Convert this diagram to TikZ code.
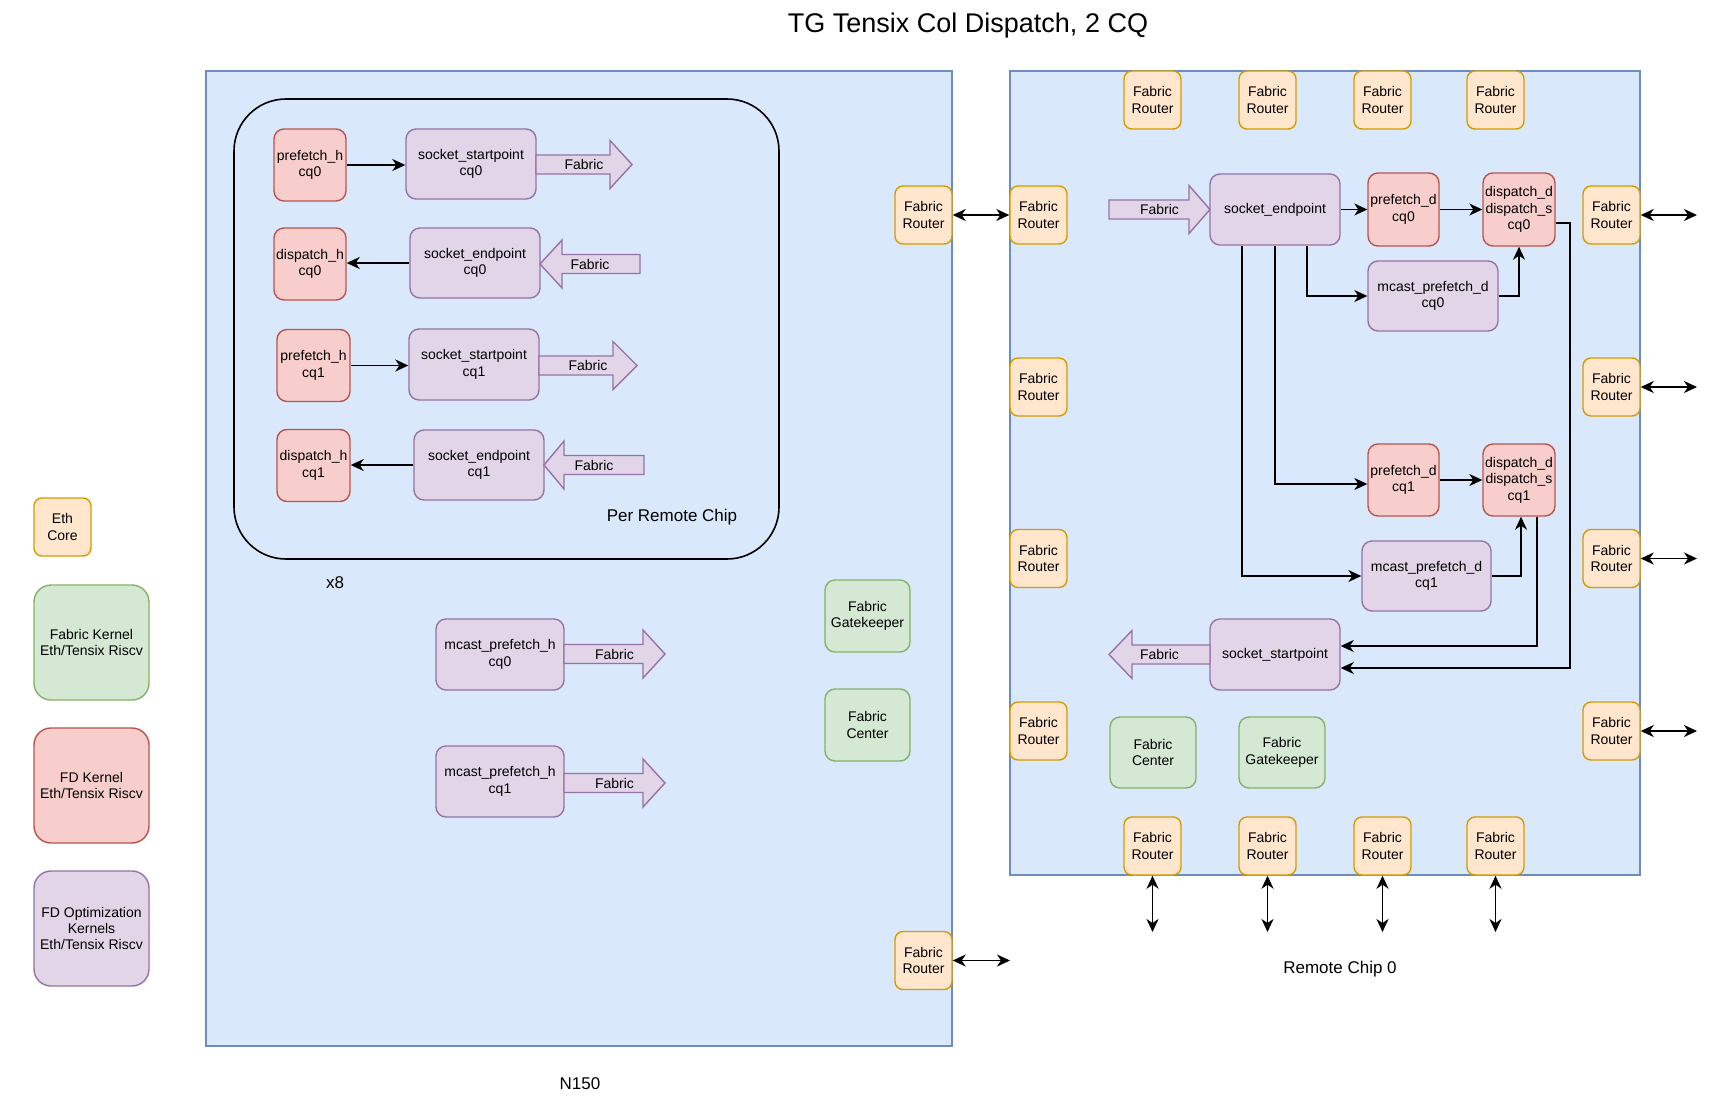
\documentclass[tikz,border=0pt]{standalone}
\usepackage{fontspec}
\setmainfont{Liberation Sans}
\usetikzlibrary{arrows.meta}
\definecolor{bfill}{HTML}{DAE8FC}\definecolor{bstroke}{HTML}{6C8EBF}
\definecolor{ofill}{HTML}{FFE6CC}\definecolor{ostroke}{HTML}{D79B00}
\definecolor{gfill}{HTML}{D5E8D4}\definecolor{gstroke}{HTML}{82B366}
\definecolor{rfill}{HTML}{F8CECC}\definecolor{rstroke}{HTML}{B85450}
\definecolor{pfill}{HTML}{E1D5E7}\definecolor{pstroke}{HTML}{9673A6}
\newcommand{\fabarrowshape}[5]{%
  \draw[fabshape] (#2,{#5-9.5}) -- (#3,{#5-9.5}) -- (#3,{#5-24}) -- (#4,#5) -- (#3,{#5+24}) -- (#3,{#5+9.5}) -- (#2,{#5+9.5}) -- cycle;
  \node[lbl] (#1) at ({(#2+#4)/2},#5) {Fabric};}
\begin{document}
\begin{tikzpicture}[x=1pt,y=-1pt,
  txt/.style={font=\fontsize{14}{16.4}\selectfont, text=black},
  lbl/.style={txt, inner sep=0pt},
  biglbl/.style={font=\fontsize{17}{20}\selectfont, text=black, inner sep=0pt},
  box/.style={draw, txt, rounded corners=10pt, line width=1.4pt, align=center, inner sep=0pt},
  redbox/.style={box, fill=rfill, draw=rstroke},
  purbox/.style={box, fill=pfill, draw=pstroke},
  grnbox/.style={box, fill=gfill, draw=gstroke},
  orgbox/.style={box, fill=ofill, draw=ostroke, minimum width=57pt, minimum height=58pt, rounded corners=8pt},
  sq/.style={minimum width=72pt, minimum height=72pt},
  wide/.style={minimum width=130pt, minimum height=71pt},
  legend/.style={minimum width=115pt, minimum height=115pt, rounded corners=17pt},
  container/.style={draw=bstroke, fill=bfill, line width=1.3pt, inner sep=0pt},
  fabshape/.style={draw=pstroke, fill=pfill, line width=1.4pt, line join=miter},
  tipshape/.tip={Stealth[length=13pt,width=12pt,inset=4pt]},
  conn/.style={draw=black, line width=1.7pt, -tipshape},
  biconn/.style={draw=black, line width=1.7pt, tipshape-tipshape}
]
\useasboundingbox (0,0) rectangle (1723,1100);
\fill[white] (0,0) rectangle (1723,1100);

% title
\node[font=\fontsize{27}{32}\selectfont, inner sep=0pt] (title) at (968,26) {TG Tensix Col Dispatch, 2 CQ};

% containers
\node[container, minimum width=746pt, minimum height=975pt] (n150) at (579,558.5) {};
\node[container, minimum width=630pt, minimum height=804pt] (remote) at (1325,473) {};
\node[draw=black, line width=1.6pt, rounded corners=52pt, minimum width=545pt, minimum height=460pt] (perchip) at (506.5,329) {};

\node[biglbl] (perlbl) at (672,517) {Per Remote Chip};
\node[biglbl] (x8) at (335,583) {x8};
\node[biglbl] (n150lbl) at (580,1084) {N150};
\node[biglbl] (remlbl) at (1340,969) {Remote Chip 0};

% legend
\node[orgbox] (lgeth) at (62.5,527) {Eth\\Core};
\node[grnbox, legend] (lgfab) at (91.5,642.5) {Fabric Kernel\\Eth/Tensix Riscv};
\node[redbox, legend] (lgfd) at (91.5,785.5) {FD Kernel\\Eth/Tensix Riscv};
\node[purbox, legend] (lgopt) at (91.5,928.5) {FD Optimization\\Kernels\\Eth/Tensix Riscv};

% N150 per-chip nodes
\node[redbox, sq] (ph0) at (310,165) {prefetch\_h\\cq0};
\node[purbox, wide, minimum height=70pt] (ss0) at (471,164) {socket\_startpoint\\cq0};
\node[redbox, sq] (dh0) at (310,264) {dispatch\_h\\cq0};
\node[purbox, wide, minimum height=70pt] (se0) at (475,263) {socket\_endpoint\\cq0};
\node[redbox, sq, minimum width=73pt] (ph1) at (313.5,365.5) {prefetch\_h\\cq1};
\node[purbox, wide] (ss1) at (474,364.5) {socket\_startpoint\\cq1};
\node[redbox, sq, minimum width=73pt] (dh1) at (313.5,465.5) {dispatch\_h\\cq1};
\node[purbox, wide, minimum height=70pt] (se1) at (479,465) {socket\_endpoint\\cq1};

\fabarrowshape{fa1}{536}{610}{632}{164.5}
\fabarrowshape{fa2}{640}{562}{540}{264}
\fabarrowshape{fa3}{539}{613}{637}{365.5}
\fabarrowshape{fa4}{644}{564}{544}{465}

\draw[conn] (ph0.east) -- (ph0.east -| ss0.west);
\draw[conn] (se0.west) -- (se0.west -| dh0.east);
\draw[conn] (ph1.east) -- (ph1.east -| ss1.west);
\draw[conn] (se1.west) -- (se1.west -| dh1.east);

% N150 other nodes
\node[purbox, minimum width=128pt, minimum height=71pt] (mh0) at (500,654.5) {mcast\_prefetch\_h\\cq0};
\node[purbox, minimum width=128pt, minimum height=71pt] (mh1) at (500,781.5) {mcast\_prefetch\_h\\cq1};
\fabarrowshape{fa5}{564}{643}{665}{654}
\fabarrowshape{fa6}{564}{643}{665}{783}
\node[grnbox, minimum width=85pt, minimum height=72pt] (ngk) at (867.5,616) {Fabric\\Gatekeeper};
\node[grnbox, minimum width=85pt, minimum height=72pt] (nfc) at (867.5,725) {Fabric\\Center};
\node[orgbox] (nr1) at (923.5,215) {Fabric\\Router};
\node[orgbox] (nr2) at (923.5,960.5) {Fabric\\Router};

% Remote chip routers
\node[orgbox] (rt1) at (1152.5,100) {Fabric\\Router};
\node[orgbox] (rt2) at (1267.5,100) {Fabric\\Router};
\node[orgbox] (rt3) at (1382.5,100) {Fabric\\Router};
\node[orgbox] (rt4) at (1495.5,100) {Fabric\\Router};
\node[orgbox] (rb1) at (1152.5,846) {Fabric\\Router};
\node[orgbox] (rb2) at (1267.5,846) {Fabric\\Router};
\node[orgbox] (rb3) at (1382.5,846) {Fabric\\Router};
\node[orgbox] (rb4) at (1495.5,846) {Fabric\\Router};
\node[orgbox] (rl1) at (1038.5,215) {Fabric\\Router};
\node[orgbox] (rl2) at (1038.5,387) {Fabric\\Router};
\node[orgbox] (rl3) at (1038.5,558.5) {Fabric\\Router};
\node[orgbox] (rl4) at (1038.5,731) {Fabric\\Router};
\node[orgbox] (rr1) at (1611.5,215) {Fabric\\Router};
\node[orgbox] (rr2) at (1611.5,387) {Fabric\\Router};
\node[orgbox] (rr3) at (1611.5,558.5) {Fabric\\Router};
\node[orgbox] (rr4) at (1611.5,731) {Fabric\\Router};

% Remote chip nodes
\node[purbox, wide] (se) at (1275,209.5) {socket\_endpoint};
\node[redbox, minimum width=71pt, minimum height=73pt] (pd0) at (1403.5,209.5) {prefetch\_d\\cq0};
\node[redbox, minimum width=72pt, minimum height=73pt] (dd0) at (1519,209.5) {dispatch\_d\\dispatch\_s\\cq0};
\node[purbox, minimum width=130pt, minimum height=70pt] (mp0) at (1433,296) {mcast\_prefetch\_d\\cq0};
\node[redbox, minimum width=71pt, minimum height=72pt] (pd1) at (1403.5,480) {prefetch\_d\\cq1};
\node[redbox, minimum width=72pt, minimum height=72pt] (dd1) at (1519,480) {dispatch\_d\\dispatch\_s\\cq1};
\node[purbox, minimum width=129pt, minimum height=70pt] (mp1) at (1426.5,576) {mcast\_prefetch\_d\\cq1};
\node[purbox, wide] (sst) at (1275,654.5) {socket\_startpoint};
\node[grnbox, minimum width=86pt, minimum height=71pt] (rfc) at (1153,752.5) {Fabric\\Center};
\node[grnbox, minimum width=86pt, minimum height=71pt] (rgk) at (1282,752.5) {Fabric\\Gatekeeper};

\fabarrowshape{fa7}{1109}{1189}{1210}{209.5}
\fabarrowshape{fa8}{1210}{1132}{1109}{654.5}

\draw[conn] (se.east) -- (se.east -| pd0.west);
\draw[conn] (pd0.east) -- (pd0.east -| dd0.west);
\draw[conn] ([xshift=32pt]se.south) |- (mp0.west);
\draw[conn] (mp0.east) -| (dd0.south);
\draw[conn] (se.south) |- ([yshift=-4pt]pd1.west);
\draw[conn] (pd1.east) -- (pd1.east -| dd1.west);
\draw[conn] ([xshift=-33pt]se.south) |- (mp1.west);
\draw[conn] (mp1.east) -| ([xshift=2pt]dd1.south);
\draw[conn] ([xshift=18pt]dd1.south) |- ([yshift=8.5pt]sst.east);
\draw[conn] ([yshift=-13.5pt]dd0.east) -- ++(14,0) |- ([yshift=-13.5pt]sst.east);

% external links
\coordinate (er1) at (1697,215);
\coordinate (er2) at (1697,387);
\coordinate (er3) at (1697,558.5);
\coordinate (er4) at (1697,731);
\coordinate (eb1) at (1152.5,932);
\coordinate (eb2) at (1267.5,932);
\coordinate (eb3) at (1382.5,932);
\coordinate (eb4) at (1495.5,932);
\coordinate (en2) at (1010,960.5);
\draw[biconn] (nr1.east) -- (rl1.west);
\draw[biconn] (nr2.east) -- (en2);
\draw[biconn] (rr1.east) -- (er1);
\draw[biconn] (rr2.east) -- (er2);
\draw[biconn] (rr3.east) -- (er3);
\draw[biconn] (rr4.east) -- (er4);
\draw[biconn] (rb1.south) -- (eb1);
\draw[biconn] (rb2.south) -- (eb2);
\draw[biconn] (rb3.south) -- (eb3);
\draw[biconn] (rb4.south) -- (eb4);
\end{tikzpicture}
\end{document}
